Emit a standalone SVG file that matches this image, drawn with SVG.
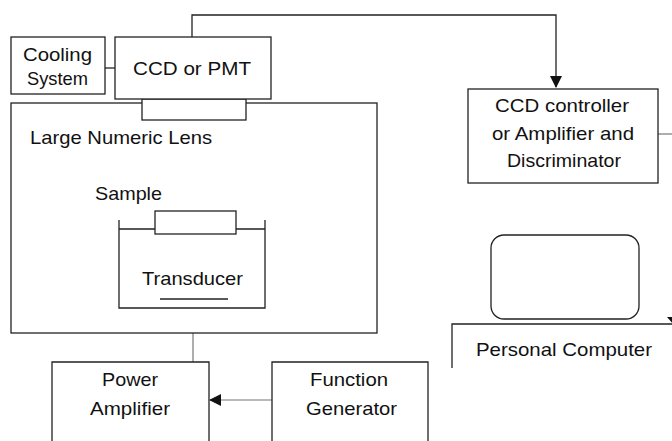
<svg xmlns="http://www.w3.org/2000/svg" width="672" height="441" viewBox="0 0 672 441">
<style>
.box{fill:#fff;stroke:#222;stroke-width:1.3}
.ln{fill:none;stroke:#222;stroke-width:1.3}
.gl{fill:none;stroke:#777;stroke-width:1.2}
text{font-family:"Liberation Sans",Arial,sans-serif;font-size:19px;fill:#111}
</style>
<defs>
<marker id="ah" markerWidth="12" markerHeight="12" refX="11" refY="6" orient="auto" markerUnits="userSpaceOnUse">
<path d="M0,0 L12,6 L0,12 Z" fill="#111"/>
</marker>
</defs>
<rect width="672" height="441" fill="#fff"/>
<g id="connectors">
<path class="ln" d="M192,37 V15 H556 V87" marker-end="url(#ah)"/>
<path class="ln" d="M105,68 H115"/>
<path class="gl" d="M658,134 H672"/>
<path class="gl" d="M193,299 V362"/>
<path class="gl" d="M272,400 H210" marker-end="url(#ah)"/>
<path d="M667,317 L679,317 L673,324 Z" fill="#111"/>
</g>
<g id="lens-chamber">
<rect class="box" x="11" y="103" width="366" height="230"/>
<text x="30" y="144" textLength="182" lengthAdjust="spacingAndGlyphs">Large Numeric Lens</text>
</g>
<g id="lens">
<rect class="box" x="142" y="99" width="104" height="21"/>
</g>
<g id="cooling">
<rect class="box" x="11" y="37" width="94" height="57"/>
<text x="23" y="61" textLength="69" lengthAdjust="spacingAndGlyphs">Cooling</text>
<text x="27" y="85" textLength="61" lengthAdjust="spacingAndGlyphs">System</text>
</g>
<g id="ccd">
<rect class="box" x="115" y="37" width="156" height="62"/>
<text x="133" y="75" textLength="118" lengthAdjust="spacingAndGlyphs">CCD or PMT</text>
</g>
<g id="sample">
<text x="95" y="200" textLength="67" lengthAdjust="spacingAndGlyphs">Sample</text>
<path class="ln" d="M119,220 V308 H265 V220"/>
<path class="ln" d="M119,229 H155 M236,229 H265"/>
<rect class="box" x="155" y="211" width="81" height="23"/>
</g>
<g id="transducer">
<text x="142" y="285" textLength="101" lengthAdjust="spacingAndGlyphs">Transducer</text>
<path class="ln" d="M160,299 H228"/>
</g>
<g id="ccd-controller">
<rect class="box" x="468" y="89" width="190" height="94"/>
<text x="495" y="112" textLength="134" lengthAdjust="spacingAndGlyphs">CCD controller</text>
<text x="492" y="140" textLength="142" lengthAdjust="spacingAndGlyphs">or Amplifier and</text>
<text x="507" y="167" textLength="114" lengthAdjust="spacingAndGlyphs">Discriminator</text>
</g>
<g id="monitor">
<rect class="box" x="491" y="235" width="148" height="84" rx="13"/>
</g>
<g id="pc">
<path class="ln" d="M452,368 V324 H672"/>
<text x="476" y="356" textLength="176" lengthAdjust="spacingAndGlyphs">Personal Computer</text>
</g>
<g id="power-amp">
<path class="ln" d="M52,441 V362 H209 V441"/>
<text x="102" y="386" textLength="56" lengthAdjust="spacingAndGlyphs">Power</text>
<text x="90" y="415" textLength="80" lengthAdjust="spacingAndGlyphs">Amplifier</text>
</g>
<g id="function-gen">
<path class="ln" d="M272,441 V362 H428 V441"/>
<text x="310" y="386" textLength="78" lengthAdjust="spacingAndGlyphs">Function</text>
<text x="306" y="415" textLength="91" lengthAdjust="spacingAndGlyphs">Generator</text>
</g>
</svg>
